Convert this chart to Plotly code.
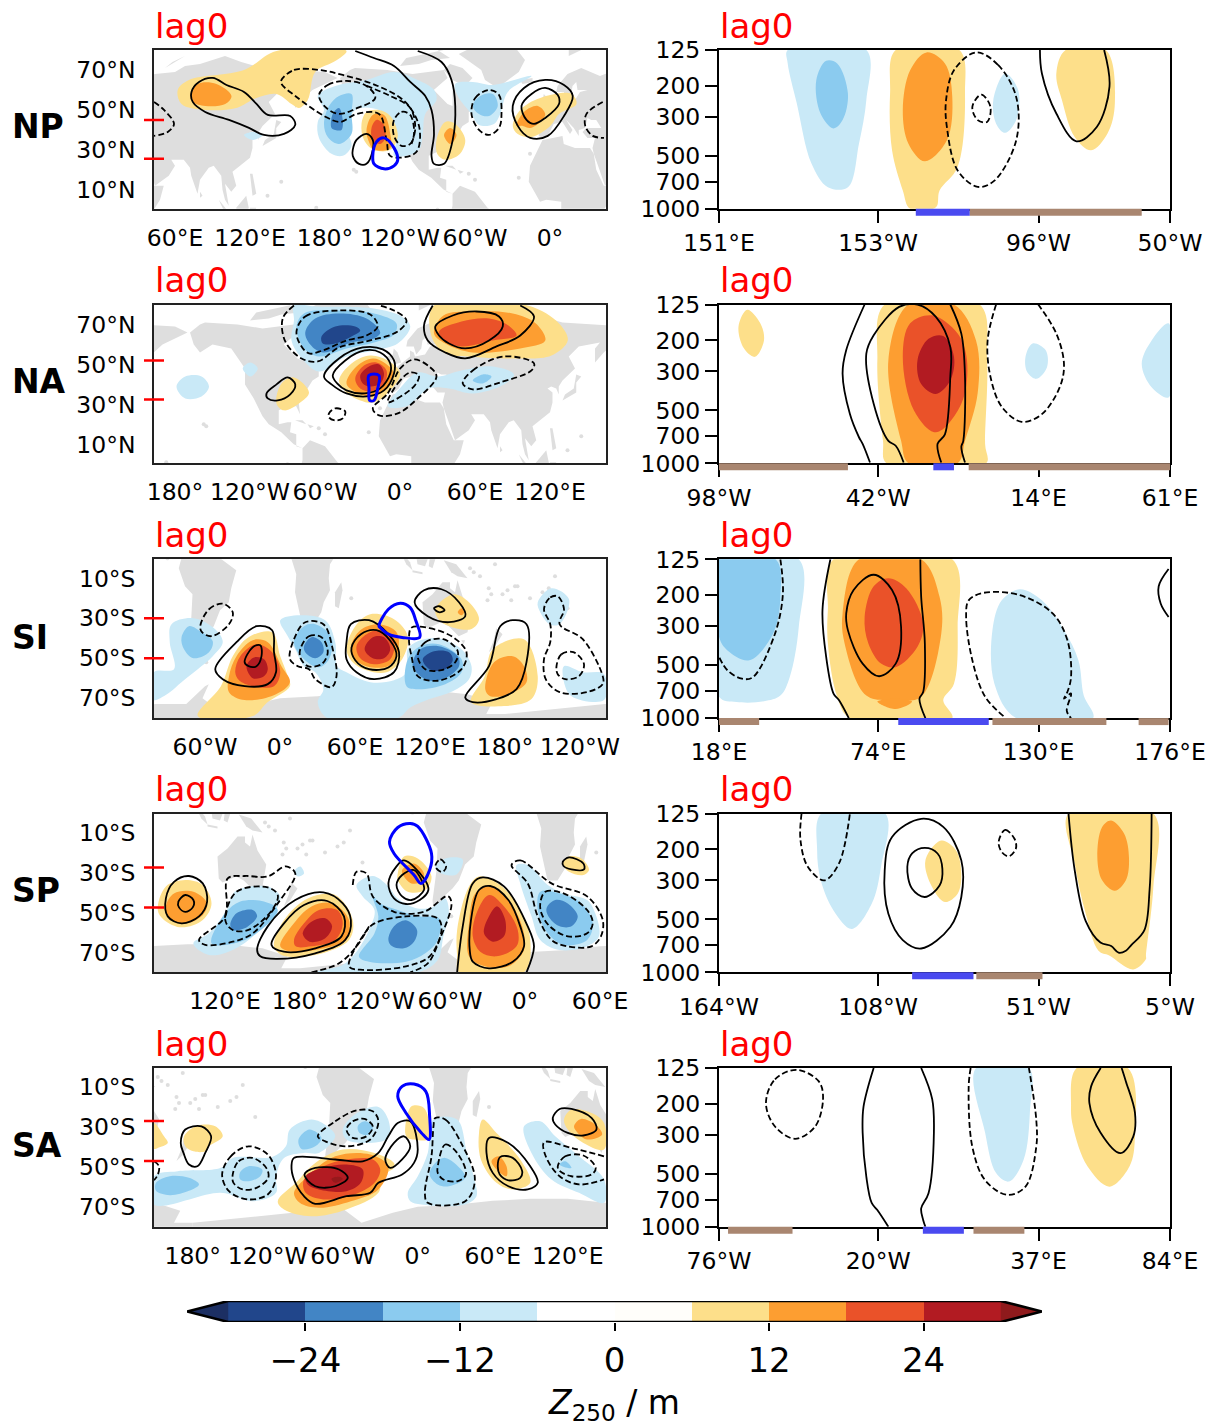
import math
import plotly.graph_objects as go

W, H = 1215, 1426
COL = dict(b4="#21468b", b3="#4285c5", b2="#8bcbef", b1="#c9e9f7",
           r1="#fddf8a", r2="#fd9e31", r3="#ea5229", r4="#b21b22", r5="#96191c")
LAND = "#dedede"

# ---------- land outlines, true lon / lat ----------
WORLD = [
 [(-9,37),(-9,43),(-1,44),(-4,48),(2,51),(8,54),(8,57),(11,56),(12,54),(20,55),(24,59),(30,60),(22,60),(21,64),(24,66),(18,62),(17,58),(13,55),(11,59),(5,59),(6,62),(14,68),(25,71),(40,67),(44,68),(60,69),(68,72),(80,73),(100,77),(113,74),(130,71),(160,70),(180,69),(190,66),(180,63),(170,60),(163,56),(156,51),(156,58),(160,61),(143,59),(135,54),(140,48),(130,42),(127,39),(127,35),(125,38),(121,39),(118,38),(122,36),(122,31),(120,26),(110,21),(106,19),(109,12),(105,9),(100,13),(103,2),(100,5),(98,10),(97,17),(91,22),(87,21),(80,15),(78,8),(73,17),(72,21),(67,25),(57,25),(60,22),(55,17),(44,12),(39,21),(35,28),(34,31),(36,36),(30,36),(26,39),(29,41),(41,41),(37,45),(33,45),(30,46),(28,41),(23,40),(23,37),(19,41),(13,45),(18,40),(16,38),(10,44),(3,43),(-1,38),(-5,36)],
 [(-6,35),(10,37),(11,33),(20,31),(32,31),(35,28),(37,20),(43,12),(51,12),(48,5),(40,-3),(39,-10),(40,-16),(35,-22),(33,-27),(26,-34),(18,-34),(12,-17),(13,-8),(9,0),(9,4),(-3,5),(-8,4),(-17,14),(-16,22),(-10,30)],
 [(-168,66),(-160,70),(-156,71),(-130,70),(-110,68),(-95,69),(-85,70),(-82,66),(-93,60),(-82,53),(-78,52),(-78,60),(-70,61),(-65,59),(-55,52),(-65,49),(-65,44),(-70,42),(-75,37),(-81,31),(-80,25),(-83,29),(-90,29),(-97,27),(-97,20),(-90,21),(-87,21),(-88,16),(-83,15),(-83,9),(-78,8),(-85,10),(-95,16),(-105,20),(-110,24),(-117,33),(-124,40),(-124,48),(-135,58),(-150,60),(-160,56),(-165,60)],
 [(-78,8),(-72,12),(-60,9),(-50,1),(-35,-6),(-39,-15),(-41,-22),(-48,-26),(-53,-34),(-58,-38),(-65,-42),(-68,-52),(-72,-53),(-74,-44),(-71,-30),(-70,-18),(-76,-14),(-81,-5),(-78,2)],
 [(114,-22),(122,-18),(130,-12),(136,-12),(136,-15),(140,-17),(142,-11),(146,-19),(153,-26),(150,-37),(143,-39),(135,-34),(129,-32),(118,-35),(115,-33)],
 [(-73,78),(-60,82),(-30,83),(-20,75),(-25,69),(-42,61),(-52,65),(-55,70)],
 [(-80,73),(-70,71),(-62,66),(-68,62),(-78,65),(-85,70)],
 [(-120,72),(-105,73),(-95,75),(-80,76),(-90,80),(-70,82),(-115,76)],
 [(-180,-78),(-150,-76),(-120,-74),(-100,-73),(-75,-73),(-60,-64),(-57,-63),(-62,-70),(-45,-78),(-20,-73),(0,-70),(30,-69),(60,-67),(90,-66),(120,-66),(150,-68),(170,-72),(165,-78),(180,-78),(180,-90),(-180,-90)],
 [(49,-12),(50,-16),(47,-25),(44,-24),(44,-17)],
 [(173,-35),(178,-38),(175,-41),(172,-44),(167,-47),(171,-41)],
 [(-5,50),(1,51),(-2,56),(-5,58),(-6,54)], [(-10,52),(-6,52),(-6,55),(-10,54)],
 [(-24,65),(-14,66),(-14,64),(-22,63)],
 [(130,32),(136,34),(141,36),(141,41),(145,44),(141,45),(139,38),(132,35)],
 [(95,5),(104,-2),(106,-6),(101,-3)], [(106,-6),(114,-7),(114,-8),(106,-7)],
 [(109,1),(117,7),(119,1),(116,-4),(110,-3)], [(120,1),(125,1),(122,-5),(119,-4)],
 [(131,-1),(141,-3),(150,-10),(142,-9),(137,-7)], [(120,18),(122,18),(125,8),(122,7)],
 [(80,9),(82,7),(80,6)], [(-84,22),(-75,20),(-78,22)], [(-74,20),(-69,19),(-72,18)],
 [(145,-41),(148,-41),(147,-43)], [(15,77),(25,80),(15,80)], [(52,71),(68,77),(58,74)],
]
ISLANDS = [(167,-15),(178,-18),(-172,-14),(-150,-17),(166,-21),(160,-9),(152,-5),(-175,-21),(-140,-9),(173,1),(145,14),(-157,20),(-155,19),(57,-20),(-16,28),(-25,16),(-60,15),(-65,18),(70,-49),(-59,-52),(-37,-54),(-170,-14),(155,-7),(169,-18),(-145,-15),(-178,-16),(172,-3),(-160,-20),(134,7),(-90,0),(-130,-25)]

# ---------- map panels: x = degrees east of the left map edge, y = degrees lat ----------
NP_FILLS = [
 ("r1",[(19,60),(28,65),(72,70),(98,79.5),(154,79.5),(145,74.5),(129,69),(123,55),(116,51),(110,53),(98,58),(82,56),(66,51),(41,50),(22,53)]),
 ("r2",[(29,57),(35,63),(50,63),(62,57),(57,53),(41,52),(31,54)]),
 ("b1",[(72,37.5),(79,39),(87,37.5),(79,35)]),
 ("b1",[(131,57),(145,62),(170,65),(192,69),(211,65),(224,60),(226,55),(217,48),(215,38),(212,30),(202,27),(192,27),(194,35),(192,43),(180,50),(161,50),(155,40),(158,32),(151,27),(142,28),(132,36),(131,44),(136,50)]),
 ("b2",[(136,43),(140,52),(148,57),(158,58),(158,48),(158,38),(148,33),(139,36.5)]),
 ("b3",[(142,41),(143,48),(148,51),(151,45),(150,40),(145,40)]),
 ("r1",[(166,43),(170,49),(180,50),(189,47),(195,37),(189,30),(176,30),(168,35)]),
 ("r2",[(170,40),(175,47.5),(184,47.5),(189,38),(189,31),(176,30),(172,34)]),
 ("r3",[(174,41),(178,45),(184,42.5),(185,36),(181,33),(175,35)]),
 ("r1",[(226,35),(233,44),(241,43),(249,35),(244,27.5),(233,25),(227,27.5)]),
 ("r2",[(232,37.5),(237,41),(242,37.5),(237,33)]),
 ("b1",[(241,63),(255,64),(271,62.5),(302,67),(283,59),(277,48),(272,43),(260,42.5),(254,48),(243,57)]),
 ("b2",[(255,52),(261,57),(271,58),(275,52),(268,47),(260,48)]),
 ("r1",[(287,42),(293,50),(309,56),(334,58),(338,53),(324,48),(317,42),(302,36.5),(291,38)]),
 ("r2",[(290,42),(296,49),(307,52),(313,48),(309,44),(301,41),(295,42)]),
]
NP_S = [
 [(30,59),(36,64),(47,66),(58,62.5),(72,59),(82,53),(91,47.5),(109,47),(113,42.5),(104,38),(88,37.5),(76,41),(60,45),(41,49),(31,54)],
 [(159,30),(162,35),(170,38),(175,35),(175,30),(170,23),(164,23),(159,27)],
 [(287,52),(296,61),(313,65),(328,62.5),(335,57),(328,47),(315,37),(301,36),(291,42)],
 [(294,52),(302,58),(313,61),(323,57.5),(324,53),(313,46),(304,43),(298,45)],
]
NP_SO = [[(161,79.5),(176,76),(192,72),(205,64),(217,57),(222,50),(224,38),(222,27),(224,23),(232,23),(239,35),(241,52),(238,65),(230,74),(211,79.5)]]
NP_D = [
 [(102,65),(112,70),(132,70),(151,67.5),(179,62),(201,54),(212,42),(211,30),(205,27),(189,27),(186,35),(180,48),(162,48),(149,44),(136,47),(113,57),(102,63)],
 [(132,57.5),(139,62.5),(154,64.5),(170,62),(177,56),(161,50.5),(148,48),(137,51.5)],
 [(192,45),(198,49),(205,47.5),(208,38),(205,33),(198,32),(192,37)],
 [(254,48),(257,56),(268,60),(276,57.5),(278,48),(276,41),(268,37.5),(260,40)],
]
NP_DO = [
 [(170,62),(189,57),(205,51),(209,41),(206,33)],
 [(359,54),(346,48),(345,42),(351,37),(360,36)],
 [(0,54),(8,50),(16,43),(11,39),(0,37)],
]
NP_BLUE = [(175,27),(178,34),(184,36),(192,31),(195,25),(192,22),(184,20.5),(176,23)]

NA_FILLS = [
 ("b1",[(18,39),(25,44),(38,44),(44,39),(38,34),(25,33)]),
 ("b1",[(71,48),(77,51),(83,48),(77,44)]),
 ("r1",[(98,30.5),(102,40.5),(112,43.5),(124,36),(116,30.5),(104,27)]),
 ("b1",[(112,79.5),(129,79),(176,78),(198,74),(205,69),(195,60.5),(176,57),(154,54),(132,46.5),(117,54),(110,62),(112,72)]),
 ("b2",[(114,69),(120,75.5),(148,77),(176,75.5),(194,70.5),(192,65),(176,61),(154,58),(132,54),(120,58)]),
 ("b3",[(121,66),(129,73),(148,75.5),(170,73),(181,66),(176,63),(158,61),(135,56),(125,60)]),
 ("b4",[(134,64),(145,69),(161,69),(165,67),(158,64),(145,60.5),(135,60.5)]),
 ("b1",[(187,29),(198,39),(211,46),(227,44),(246,47),(271,49),(288,45),(280,40),(255,35.5),(236,38),(220,38),(202,29)]),
 ("b2",[(255,42),(263,45),(270,44),(263,40.5)]),
 ("r1",[(148,42),(158,50.5),(173,54.5),(187,52),(197,45.5),(189,37),(176,31),(165,32),(154,36)]),
 ("r2",[(154,40.5),(162,49),(175,53),(184,51),(192,45.5),(186,38),(175,34),(162,36)]),
 ("r3",[(161,43),(168,49.5),(178,51),(186,47),(184,40),(175,36.5),(165,38)]),
 ("r4",[(165,44.5),(172,49),(180,50),(184,45.5),(181,40.5),(173,39),(167,40.5)]),
 ("r1",[(222,64),(224,79.5),(299,79.5),(324,70.5),(331,62),(318,54.5),(287,53),(252,54),(233,55.5)]),
 ("r2",[(224,65.5),(231.5,74.5),(255,76.5),(287,75.5),(305.5,70.5),(313,62),(293,58),(255,56),(233,60.5)]),
 ("r3",[(228,66.5),(246,71.5),(268,73),(283.5,69.5),(290,64.5),(271,62),(246,59),(231.5,62)]),
]
NA_S = [
 [(90,35.5),(98,40),(107,43.5),(113,40),(109,35),(99,32),(91,33)],
 [(136,44),(148,53),(167,58.5),(183,57.5),(192,52),(192,45.5),(184,37),(170,34),(154,35.5),(142,40)],
 [(143,44.5),(153,52),(168.5,57),(181,56),(189,50.5),(189,45.5),(181,38),(168.5,35.5),(154,37),(146.5,40.5)],
 [(225,69),(239,74.5),(258,76.5),(276,74),(279,69),(268,62),(249,58),(236,60.5),(228,64.5)],
]
NA_SO = [[(223,79.5),(216,69.5),(219,62),(233,56),(249,53),(274,59),(293,64.5),(304,74),(293,79.5)]]
NA_D = [
 [(114,66.5),(121,74),(148,77),(173,75),(179,69),(170,64.5),(154,62),(135,57),(124,55.5),(117,60)],
 [(140,25.5),(145,28),(153,26.5),(151,23),(145,22),(140,23.5)],
 [(175,28),(187,35.5),(197,48),(208,52.5),(220,49),(226,44),(211,33),(195,25.5),(180,24.5)],
 [(187,31),(195,40.5),(205,46),(212,44.5),(208,39)],
 [(247,40.5),(255,47),(280,54),(304,50.5),(302,47),(277,41),(255,37.5)],
]
NA_DO = [[(112,79.5),(103,73),(105,61.5),(118,53),(131,51.5),(148,58.5),(173,62),(195,66.5),(202,72),(192,77),(180,79.5)]]
NA_BLUE = [(172,44.5),(180,44.5),(179,38),(176,32),(172.5,32),(172,38)]

SI_FILLS = [
 ("b1",[(0,57),(16,55.5),(12.6,42),(14,33),(31.5,30),(49,35.5),(55,42),(47,49),(35,55.5),(22,62),(12.6,67),(1.6,71),(0,71)]),
 ("b2",[(22,39.6),(28,34),(38,37),(47,41.5),(44,47),(31.5,50),(24,45.5)]),
 ("b1",[(101,31),(116.5,28.5),(137,31),(145,42),(146.5,54),(154,57),(173,62),(192,61),(202,57),(203,45.5),(211,41.5),(227,40),(246,45.5),(254,54),(252,60.5),(239,66.5),(220.5,70.5),(205,74.7),(195,80),(138.6,80),(131,72),(135.5,65.5),(129,57),(120,54),(113,45.5),(107,39)]),
 ("b2",[(112,42),(120,34),(129,33),(142,39.5),(140,50.5),(132,54.5),(120,50.5)]),
 ("b3",[(120,44),(126,39.5),(134,42),(135.5,47),(129,50),(121,47)]),
 ("b2",[(202,64),(203,50.5),(213,44),(228,43),(246,50.5),(246,57),(233,63),(211,65.5)]),
 ("b3",[(207,54),(213,45.5),(228,44),(243,49),(244,54),(233,60),(219,61)]),
 ("b4",[(215,50.5),(224,46.5),(236,47),(239,51),(231.5,56),(220.5,55.5)]),
 ("r1",[(35,79),(53.5,64),(63,49),(75.6,39.5),(94.5,37),(101,49),(107,59),(108.7,64),(91,72),(79,79)]),
 ("r2",[(60,67),(60,59),(66,49),(79,41),(91,42),(102,54),(108.7,62),(97.6,68),(72.5,71)]),
 ("r3",[(65,57),(69,49),(82,43),(94.5,47),(101,57),(96,64),(79,64),(68,61)]),
 ("r4",[(74,54),(80,49.6),(88,50.5),(91,55.5),(88,59),(79,60)]),
 ("r1",[(154,45.5),(161,34),(173,28),(192,30.5),(203,39),(198.5,50.5),(186,57),(170,56),(159,52)]),
 ("r2",[(157.5,44.7),(165,36),(179.5,33),(194,37),(195,47),(187,54),(170,54),(161,50.5)]),
 ("r3",[(162,44),(170,38),(183,36),(192,42),(189,50.5),(176,53),(165,50)]),
 ("r4",[(168.5,45.5),(175,39.5),(184,39.5),(189,45.5),(184,50),(175,50)]),
 ("r1",[(225,25.5),(239.5,18),(252,22),(260,30.5),(253.6,35.5),(230,32)]),
 ("r2",[(243,27),(246,25),(248,27),(246,28.5)]),
 ("r1",[(253.6,72),(264.6,59),(271,45.5),(296,40.5),(307,59),(302,70.5),(280,74)]),
 ("r2",[(265,65.5),(272,52),(287,49),(296,54),(298,62),(283.5,68),(269,69)]),
 ("b1",[(307,22),(318,15),(332,20.5),(324.5,33),(316.6,33),(309,27)]),
 ("b1",[(328,54),(343,57),(360,58),(360,71),(334,69),(328,62)]),
]
SI_S = [
 [(49,55.5),(66,42),(82,34),(94.5,36),(96,47),(97.6,57),(91,63),(72.5,64),(55,60.5)],
 [(72.5,52),(79,44.5),(85,43.5),(86,49),(82,54),(75.6,54)],
 [(154,42),(157.5,33),(172,31),(187.5,38),(196,47),(192,57),(176,60.5),(162,57),(154,50.5)],
 [(158,44.7),(165.5,38),(178,36),(189,41.3),(194,49),(187.5,54.7),(172,55.5),(161,51)],
 [(208.5,22),(216,16),(230,15.5),(244,22),(249,29),(236,32),(219,29)],
 [(224,25),(228,24),(232.5,26),(228,27)],
 [(249,69.7),(268,54),(277,34),(287,31),(298,33),(298,52),(290,65.5),(274,70.5),(255,72)],
]
SI_SO = []
SI_D = [
 [(37,34),(44,25.5),(55,22.7),(63,27),(60,33),(46,39),(38.4,37)],
 [(108.7,50.5),(112,40.5),(121,32),(135.5,33),(143,45.5),(146,59),(142,64.5),(129,60.5),(124,55.5),(115,54)],
 [(117,45.5),(124,39),(134,39.5),(139,47),(134,53),(123,54),(117,49.6)],
 [(206,34.7),(220.5,35),(239.5,39.6),(250,47),(246,55.5),(227,61.3),(211,59),(206,49),(204,40.5)],
 [(211,49),(217,42),(231.5,40.5),(243,46.5),(241,52),(230,56),(217,55.5)],
 [(312,25.5),(317,19.6),(323,19),(328,25.5),(324.5,33),(343,40.5),(359,59),(359,63),(346.5,67),(324.5,67),(313.4,60.5),(312,50.5),(317,42),(317,33)],
 [(322,54),(326,48),(335.5,47),(344,53),(340,59),(329,60.5),(323,58)],
]
SI_DO = []
SI_BLUE = [(180,34),(187.5,25.5),(197,22.5),(205,24.7),(209.5,31.3),(212.6,39.6),(198.5,39.6),(187.5,38),(181,34.7)]

SP_FILLS = [
 ("r1",[(3,48.8),(9.5,37),(25,33.8),(39,36.3),(46,45.5),(39,53.8),(22,57.5),(8,53.8)]),
 ("r2",[(9.5,47),(16,40.5),(31.5,39.7),(42.5,45.5),(38,52),(25,55.5),(12.6,53)]),
 ("b1",[(31.5,65.5),(44,60.5),(58,48.8),(64.6,39.7),(91,37),(101,42),(99,47),(82,60.5),(63,68.8),(44,71.3)]),
 ("b1",[(112,29.7),(117,27),(120,30.5),(115,32)]),
 ("b2",[(46,65.5),(57,50.5),(69,44.6),(88,44.6),(99,48.8),(82,60.5),(64.6,65.5)]),
 ("b3",[(61,56.3),(66,50.5),(79,48.8),(82.5,52),(72.5,58),(63,58.8)]),
 ("r1",[(96,67),(104,53.8),(123,43),(145,41.3),(159,53.8),(156,63.8),(129,71.3),(102,71.3)]),
 ("r2",[(101,67),(110,57),(126,47),(143,45.5),(156,53.8),(153,63.8),(129,68.8),(110,69.7)]),
 ("r3",[(112,63.8),(120,55.5),(132,48.8),(146.5,48.8),(151,55.5),(145,63.8),(126,67),(113.4,67)]),
 ("r4",[(119,60.5),(126,54.7),(137,53),(142.4,57),(137,63),(124.4,64.7)]),
 ("b1",[(162,36.3),(175,31.8),(187.5,37),(195,43),(211,48),(224,47),(233,43),(236,50.5),(231.5,62),(227,73.8),(211,80),(129,80),(151,76.3),(161,70.5),(172,58.8),(176.4,48.8),(167,42)]),
 ("b1",[(225,27),(233,23),(247,23.5),(242,31),(228,30)]),
 ("b2",[(175,42),(181,45.5),(195,48.8),(211,52),(228,53),(227,63.8),(217,70.5),(201.6,74.7),(172,74.7),(164,72.2),(176.4,60.5),(179.5,52)]),
 ("b3",[(187.5,63.8),(192,57),(201.6,54),(210.4,58.8),(208,64.7),(200,68),(190.6,67)]),
 ("r1",[(195,30.5),(200,22),(211,23),(222,32),(217,38.8),(203,39.7),(195,33.8)]),
 ("r2",[(198.5,28.8),(208,25.5),(216,30.5),(214,34.7),(206,35.5),(200,32)]),
 ("r1",[(242.5,72),(242.5,58.8),(252,37),(260,32),(277,36.3),(293,48.8),(301,63.8),(296,80),(244,80)]),
 ("r2",[(252,72),(252,55.5),(257,40.5),(269,37),(283.5,43.8),(294.5,57),(296,68.8),(283.5,77),(264.6,77)]),
 ("r3",[(255,62),(258,50.5),(268,41.3),(280,47),(291,58.8),(290,67),(274,72),(261,69.7)]),
 ("r4",[(264,60.5),(268,52),(274.7,47),(281,53.8),(280,62),(271,64.7)]),
 ("b1",[(290,26.3),(299,26.3),(315,36.3),(327.6,40.5),(346.5,43.8),(353,50.5),(356,62),(346.5,67),(324.5,68.8),(309,63.8),(302,52),(293,35.5)]),
 ("b2",[(307,48.8),(309,39.7),(324.5,40.5),(342,45.5),(351,55.5),(346.5,63.8),(327.6,66.3),(315,60.5)]),
 ("b3",[(314,48),(321,43.8),(331,45.5),(339,52),(334,57),(324.5,57),(316.6,53)]),
 ("r1",[(327,25.5),(332,22),(342,23),(348,28.8),(343.5,31.3),(332,29.7)]),
]
SP_S = [
 [(9.5,43),(16,34.7),(28,31.8),(39,35.5),(42.5,44.6),(36,52),(22,55.5),(11,52)],
 [(19.5,44.6),(25,41.3),(31.5,43.8),(31,47.5),(25,49.7),(20,47.5)],
 [(82.5,68.8),(91,57),(113,43.8),(135.5,40),(151,45.5),(157.5,53.8),(153,63.8),(129,70.5),(97.6,73.3),(85,72)],
 [(94,66.3),(104,55.5),(120,46.3),(138.6,44.3),(152,52),(150,62),(129,68),(104,69.7)],
 [(187.5,35.5),(194,27),(200,24),(216,33),(219.5,38.8),(212.6,43.8),(201.6,45.8),(192,43)],
 [(194,36.3),(198.5,31.3),(208,28.8),(214,33.8),(216,38.8),(206,43.8),(198.5,42)],
 [(252.6,68.8),(253.6,53.8),(260,38.8),(269,36.8),(283.5,43.8),(293,57),(296,67),(287,74.7),(268,78),(255,74.7)],
 [(327,24.7),(332,22.5),(343.5,25.5),(344,28.5),(334,28.5),(327.6,26.8)],
]
SP_SO = [[(242.5,80),(247,57),(255,35.5),(263,32.5),(280,37),(299,57),(304,67),(298,80)]]
SP_D = [
 [(36,63.8),(57,52),(59,33),(72.5,31.8),(91,32),(105.5,27),(113,30.5),(99,45.5),(79,60.5),(63,64.7),(41,66.3)],
 [(57,53.8),(66,39.7),(91,37.5),(99,41.3),(94.5,48.8),(75.6,58.8),(63,58.8)],
 [(156,77),(168.5,60.5),(176.4,55.5),(201.6,52),(227,53),(230,58.8),(220.5,72),(201.6,77),(167,78.8)],
 [(225,27),(229,23.5),(233.7,27),(230.6,29.8)],
 [(286,26.3),(293,24),(318,35.5),(346.5,42),(359,53.8),(357.5,62),(350,67),(331,67),(318,63.8),(307,52),(299,35.5)],
 [(309,45.5),(313,39.7),(327.6,40.5),(346.5,48.8),(351,55.5),(346.5,60.5),(331,62),(316.6,57),(310,50.5)],
]
SP_DO = [
 [(159,36.3),(162,29.7),(170,30.5),(175,42),(192,49.7),(216,49.7),(235,41.8),(238,45.5),(228.4,63.8),(219,75.5),(205,80)],
 [(126,80),(148,75.5),(162,67),(172,57)],
]
SP_BLUE = [(205,5.5),(211,7),(222,20.5),(220.5,28.8),(213.6,35.5),(208,31.3),(192,20.5),(188.4,14.7),(195,7.5)]

SA_FILLS = [
 ("r1",[(0,28),(8,34.7),(11,38),(3,40.5),(0,41)]),
 ("r1",[(24,34.7),(35,29.3),(49,29.7),(55,34.7),(44,39.7),(41,42.2),(31.5,42.2),(25,39.7)]),
 ("b1",[(0,54.7),(19,52.2),(53.5,50.5),(63,45.5),(94.5,45),(105.5,39.7),(108.7,31.3),(126,26.3),(138.6,29.7),(145,34.7),(132,43),(120,43),(104,45.5),(97.6,54.7),(97.6,63),(79,67.2),(53.5,63),(0,68.8)]),
 ("b2",[(1.6,58),(12.6,54.7),(28,55.5),(36,58.8),(28,62),(12.6,64.2),(1.6,62)]),
 ("b2",[(68.7,53),(75.6,49.7),(86.6,51.3),(85,54.7),(75.6,57.2),(69,56.3)]),
 ("b2",[(115.6,36.3),(124.4,31.3),(134,35.5),(129,39.7),(118,41)]),
 ("b1",[(151,31.3),(160.6,23.8),(179.5,20),(187.4,26.3),(187.4,35.5),(170,38),(154,36.3)]),
 ("b2",[(163,29.7),(168.5,27.2),(175,29.7),(172,33.8),(164.4,33)]),
 ("r1",[(99,67.2),(113.4,58),(129,48),(151,41.3),(176.4,43),(192,48),(192,50.5),(182.7,54.7),(179.5,63),(154,71.3),(126,74.7),(104,71.3)]),
 ("r2",[(112,63),(123,54.7),(145,44.7),(173,43.8),(187.4,49.7),(179.5,61.3),(157.5,67.2),(132,70.5),(116.6,68)]),
 ("r3",[(120,56.3),(135.5,49.7),(154,46.3),(175,46.3),(181,51.3),(176.4,58),(160.6,63.8),(135.5,66.3),(121.3,63)]),
 ("r4",[(121.3,54.7),(135.5,50.5),(154,48.8),(167,51.3),(165.4,58),(154,62.2),(132,61.3),(123,58.8)]),
 ("r5",[(142,56),(148,55),(151,56),(145,58)]),
 ("r1",[(201,33),(206,19.7),(216,20.5),(220.5,31.3),(219,36.3),(208,36.3),(203,35.5)]),
 ("b1",[(203,63),(211,54.7),(219,43),(223.6,26.3),(242.5,26.3),(250.4,43),(257,58),(258,64.7),(249,68.8),(214,68.8),(205,67.2)]),
 ("b2",[(220.5,53.8),(225,48),(233,45.5),(245.7,51.3),(249,55.5),(236,59.7),(227,58.8)]),
 ("r1",[(260,33),(263,26.3),(274,33),(293,46.3),(301,58),(287,61.3),(274,58),(261.5,46.3)]),
 ("r2",[(270,47.2),(275.6,44.7),(282,49.7),(282,54.7),(275.6,52.2)]),
 ("b1",[(296,29.7),(309,27.2),(321,34.7),(340,44.7),(360,56.3),(360,68),(340,63),(318,56.3),(302,43)]),
 ("b2",[(324.5,48.8),(329,47.2),(334,50.5),(328,50)]),
 ("r1",[(328,26.3),(334,21.3),(350,23),(360,28),(360,41.3),(343.5,38),(331,31.3)]),
 ("r2",[(336,29.7),(341.5,26),(353,28.8),(358.5,33.8),(346.5,36.3),(339,33)]),
]
SA_S = [
 [(21.4,38),(25,31.3),(38,29.7),(45.7,34.7),(41,43),(34.7,49.7),(28,48.8),(23.6,43)],
 [(110,49.7),(112,45.5),(145,46.3),(167,47.2),(179.5,43),(187.4,34.7),(195,28),(205,27.2),(211,41.3),(208,48),(198.5,53.8),(179.5,58),(173,63),(154,64.7),(129,68.5),(120,64.7),(112,56.3)],
 [(185,46.3),(192,38),(200,34.7),(205,39.7),(198.5,46.3),(189,50.5)],
 [(120.4,53.8),(129,50.5),(148,51.3),(155,55.5),(145,59.7),(129,59.7)],
 [(266,43),(268,35.5),(283.5,38),(301,49.7),(307,58),(299,61.3),(283.5,59.7),(271,53)],
 [(275,49.7),(277,45),(287,45.5),(294.5,52),(293,55.5),(283.5,56.7),(276.6,53.8)],
 [(319,25.5),(324.5,21),(334,21),(350,25.5),(354,31.3),(343.5,34.3),(331,33),(321,28.8)],
]
SA_SO = []
SA_D = [
 [(54.5,53.8),(61.4,44.7),(75.6,39.7),(91,43.8),(97.6,54.7),(91,63.8),(75.6,66.3),(60,62.2)],
 [(63,53.8),(67.7,47.2),(78.8,45.5),(89.8,50.5),(91.4,55.5),(82,60.5),(71,61.3),(63.6,58)],
 [(131,34.7),(145,27.2),(162,21.7),(175,22.2),(179.5,27.2),(173,36.3),(154,39.7),(137,37.2)],
 [(154,31.3),(159,27.2),(168.5,26),(175,29.7),(170,34.7),(159,35.5)],
 [(225,25.5),(233,26.3),(245.7,38),(256.7,56.3),(249,67.2),(219,68),(216.7,63),(222,44.7),(223.6,29.7)],
 [(227,49.7),(233,38.8),(242.5,43),(249.5,53.8),(242.5,57.2),(231.5,56.3),(227,53)],
 [(323,49.7),(329,44.7),(343.5,44.3),(353.4,50.5),(350,53.8),(334,54.7),(324.5,52)],
]
SA_DO = [
 [(0,47.2),(4,49.7),(3,54),(0,56.7)],
 [(360,44.7),(334,40.5),(312,37.7),(313.4,44.7),(324.5,54.7),(340,58.8),(360,56.3)],
]
SA_BLUE = [(195,14.7),(198.5,9.7),(208,8.5),(217.4,12.2),(220.5,24.7),(220,36.3),(214,33),(201.6,23)]

MAPS = [
 dict(name="NP", top=50,    mid=127,  left=43.2,  nh=True,  fills=NP_FILLS, s=NP_S, so=NP_SO, d=NP_D, do=NP_DO, blue=NP_BLUE, red=[45,25.5],
      xt=[60,120,180,240,300,360], xl=["60°E","120°E","180°","120°W","60°W","0°"]),
 dict(name="NA", top=304.5, mid=382,  left=-196.8,nh=True,  fills=NA_FILLS, s=NA_S, so=NA_SO, d=NA_D, do=NA_DO, blue=NA_BLUE, red=[52,32.5],
      xt=[-180,-120,-60,0,60,120], xl=["180°","120°W","60°W","0°","60°E","120°E"]),
 dict(name="SI", top=559.3, mid=637,  left=-100.8,nh=False, fills=SI_FILLS, s=SI_S, so=SI_SO, d=SI_D, do=SI_DO, blue=SI_BLUE, red=[30,50],
      xt=[-60,0,60,120,180,240], xl=["60°W","0°","60°E","120°E","180°","120°W"]),
 dict(name="SP", top=813.5, mid=890,  left=63.2,  nh=False, fills=SP_FILLS, s=SP_S, so=SP_SO, d=SP_D, do=SP_DO, blue=SP_BLUE, red=[27.5,47.5],
      xt=[120,180,240,300,360,420], xl=["120°E","180°","120°W","60°W","0°","60°E"]),
 dict(name="SA", top=1068,  mid=1145, left=-211,  nh=False, fills=SA_FILLS, s=SA_S, so=SA_SO, d=SA_D, do=SA_DO, blue=SA_BLUE, red=[27,47],
      xt=[-180,-120,-60,0,60,120], xl=["180°","120°W","60°W","0°","60°E","120°E"]),
]

# ---------- section panels: x = degrees from the left section edge, y = hPa ----------
SEC1_FILLS = [
 ("b1",[(24.3,125),(52.1,125),(52.1,241),(49.5,426),(45.6,754),(38.5,754),(32.7,553),(27.5,251),(24.3,149)]),
 ("b2",[(34.4,186),(37.9,144),(41.8,149),(45.6,221),(43.7,313),(40.5,349),(35.9,287)]),
 ("r1",[(62.5,125),(85,125),(87,221),(84.4,578),(78,786),(76.7,980),(67.6,1000),(65,786),(61.2,465),(60.5,221)]),
 ("r2",[(65,275),(67.6,163),(73.4,129),(79.9,149),(82.5,231),(80.6,408),(72.8,537),(67,426)]),
 ("b1",[(97,241),(101.2,170),(105.8,211),(105.1,313),(101.2,370),(98,328)]),
 ("r1",[(119.3,170),(122.6,125),(136.8,125),(140,251),(137.4,373),(131.6,465),(125.8,390),(121.3,241)]),
]
SEC1_S, SEC1_SO = [], [[(113.5,125),(114.2,170),(119.3,287),(126.4,413),(133.6,343),(138.1,202),(136.2,125)]]
SEC1_D = [[(90.9,129),(98.7,152),(105.1,231),(105.1,408),(97.4,692),(91.5,750),(84.4,605),(80.6,343),(80.3,241),(83.1,163)],
          [(89.6,263),(92.8,224),(96,263),(94.8,321),(91.5,313)]]
SEC1_DO = []
SEC1_STRIP = [("blue",69.6,88.7),("brown",88.7,149.5)]

SEC2_FILLS = [
 ("r1",[(6.9,167),(10,134),(14.6,160),(15.9,200),(12.7,248),(8.8,222)]),
 ("r1",[(58.6,125),(92.2,125),(94.8,259),(94.1,775),(94.5,1000),(59.2,1000),(58,745),(56,259)]),
 ("r2",[(67,125),(83.1,125),(90.9,200),(91.5,397),(87,745),(84.4,1000),(67,1000),(64.4,745),(59.9,259)]),
 ("r3",[(65,248),(67.6,160),(75.4,144),(84.4,183),(87.7,259),(85.7,458),(76.7,666),(69,502)]),
 ("r4",[(70.2,259),(74.1,196),(79.3,189),(83.1,248),(81.8,338),(76.7,403),(71.5,354)]),
 ("b1",[(108.4,248),(110.9,208),(115.5,227),(116,284),(112.2,331),(109,303)]),
 ("b1",[(159,160),(153,200),(149.5,272),(153,370),(159,422)]),
]
SEC2_S = []
SEC2_SO = [
 [(51.5,125),(45,227),(43.7,309),(46.3,525),(49.5,711),(50.8,775),(53.4,990)],
 [(65.3,990),(62.5,795),(59.9,745),(54.7,458),(52.1,238),(54.7,187),(63.7,129),(70.2,125),(76.7,147),(81.8,218),(81.8,322),(79.9,684),(77.3,775),(78.6,990)],
 [(81.8,125),(85.7,183),(87,322),(86.4,745),(85.7,805),(87,990)],
]
SEC2_D = []
SEC2_DO = [[(98,125),(95,200),(96,322),(100,477),(107,581),(114.2,525),(120.6,366),(122,272),(119.3,183),(112.9,125)]]
SEC2_STRIP = [("brown",0,45.6),("blue",75.8,83.1),("brown",88.3,159.7)]

SEC3_FILLS = [
 ("b1",[(0,125),(28.2,125),(28.2,304),(25,585),(21.7,745),(15.9,803),(6.2,810),(0,755)]),
 ("b2",[(0,125),(20,125),(21.7,204),(19.1,331),(10.7,469),(3,412),(0,345)]),
 ("r1",[(40.5,125),(82.5,125),(84.4,304),(83.1,637),(79.3,790),(82.5,1000),(46.3,1000),(41.8,755),(38.5,375),(38.5,243)]),
 ("r2",[(49.5,125),(71.5,125),(78,204),(78.6,331),(71.5,755),(62.5,790),(52.1,745),(44.4,375),(43.7,254)]),
 ("r2",[(56,805),(62.5,775),(68.3,805),(62.5,889)]),
 ("r3",[(51.5,265),(54.7,178),(59.9,160),(66.3,183),(72.2,289),(70.2,393),(62.5,513),(57.3,490),(52.8,375)]),
 ("b1",[(96.7,317),(100,214),(106.4,185),(114.2,214),(122,317),(127.1,469),(129,745),(132.3,1000),(105.1,1000),(97.4,637)]),
]
SEC3_S = [[(45,254),(47.6,187),(54.7,153),(61.2,187),(64.4,304),(62.5,490),(56.6,578),(50.8,490),(45.6,317)]]
SEC3_SO = [
 [(39.4,125),(36.6,243),(37.9,449),(40.5,725),(42.4,790),(45.9,1000)],
 [(71.2,125),(71.5,204),(72.8,375),(72.2,711),(70.9,775),(73,1000)],
 [(159,142),(155.5,178),(156.2,223),(159,266)],
]
SEC3_D = []
SEC3_DO = [
 [(21.7,125),(22.6,196),(19.8,331),(12,585),(8.1,597),(3,535),(0,449)],
 [(100.6,975),(94.1,755),(89.6,469),(87.4,265),(88.3,214),(93.5,194),(106.4,200),(118,254),(123.2,360),(124.5,585),(123.2,711),(122,775),(124.5,725),(123,909),(124.5,1000)],
]
SEC3_STRIP = [("brown",-1.8,14.2),("blue",63.4,95.4),("brown",96.7,137),("brown",148.4,159)]

SEC4_FILLS = [
 ("b1",[(36.2,125),(58.8,125),(57.3,251),(54,408),(47,567),(40.5,445),(36,300),(34.7,202)]),
 ("r1",[(73,231),(78.6,178),(83.8,202),(85.7,275),(84.4,357),(79.9,398),(75.4,328)]),
 ("r1",[(123.6,125),(153.6,125),(153.6,328),(151,803),(151,841),(146.5,965),(138,803),(134.2,754),(129.7,465),(125.8,241)]),
 ("r2",[(133.8,221),(135.5,149),(138.7,137),(143.3,163),(145,224),(143.9,300),(140,344),(135.5,300)]),
]
SEC4_S = [
 [(58.6,263),(61.2,170),(71.5,134),(79.3,149),(85.7,231),(85.7,373),(81.8,553),(71.5,732),(65,656),(59.9,465)],
 [(66.6,251),(68.3,211),(72.8,196),(77.3,211),(79,258),(78,321),(72.8,373),(68.3,335)],
]
SEC4_SO = [[(123.6,125),(125.8,263),(129.7,511),(134.9,677),(138.7,709),(141.3,773),(143.9,754),(145.8,700),(150.4,578),(152.3,335),(153,125)]]
SEC4_D = [[(98.9,181),(101.2,155),(104.5,174),(105,198),(102.5,219),(100,207)]]
SEC4_DO = [[(29.2,125),(28.8,176),(31.4,251),(37.2,300),(42.4,241),(46.3,125)]]
SEC4_STRIP = [("blue",68.3,90),("brown",91,114.4)]

SEC5_FILLS = [
 ("b1",[(90.9,125),(109.6,125),(110,216),(107.7,417),(102.5,553),(98,495),(94.1,291)]),
 ("r1",[(126.5,125),(144.6,125),(147.1,307),(145.2,453),(138.1,591),(130.3,453),(125.2,269),(124.5,208)]),
]
SEC5_S = []
SEC5_SO = [
 [(54.7,125),(51.1,208),(50.8,291),(52.1,519),(54,732),(56,803),(59.9,1000)],
 [(71.5,125),(75.4,188),(76,291),(74.1,645),(71.5,786),(72.2,914),(73,1000)],
 [(135,125),(131.6,159),(131,198),(134.9,291),(142,381),(146.5,307),(147.1,224),(143.9,149),(142.4,125)],
]
SEC5_D = [[(16.6,198),(19.8,145),(27.5,128),(35.3,149),(36.8,186),(34,269),(26.9,316),(19.8,269)]]
SEC5_DO = [[(89,125),(88.3,159),(89.6,351),(94.1,543),(101.9,658),(108.4,591),(112.2,351),(112.2,246),(109.6,125)]]
SEC5_STRIP = [("brown",3.2,26),("blue",72.1,86.6),("brown",90,108)]

SECTIONS = [
 dict(top=50,    fills=SEC1_FILLS, s=SEC1_S, so=SEC1_SO, d=SEC1_D, do=SEC1_DO, strip=SEC1_STRIP, xl=["151°E","153°W","96°W","50°W"]),
 dict(top=304.5, fills=SEC2_FILLS, s=SEC2_S, so=SEC2_SO, d=SEC2_D, do=SEC2_DO, strip=SEC2_STRIP, xl=["98°W","42°W","14°E","61°E"]),
 dict(top=559.3, fills=SEC3_FILLS, s=SEC3_S, so=SEC3_SO, d=SEC3_D, do=SEC3_DO, strip=SEC3_STRIP, xl=["18°E","74°E","130°E","176°E"]),
 dict(top=813.5, fills=SEC4_FILLS, s=SEC4_S, so=SEC4_SO, d=SEC4_D, do=SEC4_DO, strip=SEC4_STRIP, xl=["164°W","108°W","51°W","5°W"]),
 dict(top=1068,  fills=SEC5_FILLS, s=SEC5_S, so=SEC5_SO, d=SEC5_D, do=SEC5_DO, strip=SEC5_STRIP, xl=["76°W","20°W","37°E","84°E"]),
]
SEC_XT = [0, 56.3, 113, 159.5]
SEC_PT = [125, 200, 300, 500, 700, 1000]

# ---------- colour bar ----------
CB_EDGES = [-30,-24,-18,-12,-6,0,6,12,18,24,30]
CB_COLS = ["#21468b","#4285c5","#8bcbef","#c9e9f7","#ffffff","#fffefa","#fddf8a","#fd9e31","#ea5229","#b21b22"]
CB_TICKS = [-24,-12,0,12,24]
CB_UNDER, CB_OVER = "#1c2f63", "#8f1a1c"

FONT = "DejaVu Sans"
TICK = dict(family=FONT, size=23.5, color="#000000")
DASH = "6px,3px"
fig = go.Figure()
shapes, annots, layout = [], [], {}
axn = [0]

def dom_x(a, b): return [a / W, b / W]
def dom_y(a, b): return [1 - b / H, 1 - a / H]

def new_axes():
    axn[0] += 1
    n = axn[0]
    sfx = "" if n == 1 else str(n)
    return f"x{sfx}", f"y{sfx}", f"xaxis{sfx}", f"yaxis{sfx}"

def closed(p): return list(p) + [p[0]]

def add_poly(xa, ya, pts, col):
    pts = closed(pts)
    fig.add_trace(go.Scatter(x=[p[0] for p in pts], y=[p[1] for p in pts], xaxis=xa, yaxis=ya,
        mode="lines", fill="toself", fillcolor=col, line=dict(width=0, shape="spline", smoothing=1, color=col),
        hoverinfo="skip", showlegend=False))

def add_line(xa, ya, pts, col="#000000", w=1.8, dash="solid"):
    fig.add_trace(go.Scatter(x=[p[0] for p in pts], y=[p[1] for p in pts], xaxis=xa, yaxis=ya,
        mode="lines", line=dict(width=w, shape="spline", smoothing=1, color=col, dash=dash),
        hoverinfo="skip", showlegend=False))

def add_marks(xa, ya, P):
    for fill, pts in P["fills"]:
        add_poly(xa, ya, pts, COL[fill])
    for c in P["s"]:  add_line(xa, ya, closed(c))
    for c in P["so"]: add_line(xa, ya, c)
    for c in P["d"]:  add_line(xa, ya, closed(c), dash=DASH)
    for c in P["do"]: add_line(xa, ya, c, dash=DASH)

def lag(x0, top):
    annots.append(dict(text="lag0", xref="paper", yref="paper", x=x0 / W, y=1 - (top - 3.5) / H,
        xanchor="left", yanchor="bottom", showarrow=False, font=dict(family=FONT, size=34, color="#ff0000"),
        borderpad=0))

MX0, MX1 = 154, 606
SX0, SX1 = 719, 1170
PH = 158.8

for M in MAPS:
    xa, ya, xk, yk = new_axes()
    top, left = M["top"], M["left"]
    sign = 1 if M["nh"] else -1
    for poly in WORLD:
        for k in (-360, 0, 360, 720):
            pts = closed(poly)
            fig.add_trace(go.Scatter(x=[p[0] - left + k for p in pts], y=[sign * p[1] for p in pts], xaxis=xa, yaxis=ya,
                mode="lines", fill="toself", fillcolor=LAND, line=dict(width=0, color=LAND), hoverinfo="skip", showlegend=False))
    isl_x, isl_y = [], []
    for lo, la in ISLANDS:
        isl_x.append((lo - left) % 360); isl_y.append(sign * la)
    fig.add_trace(go.Scatter(x=isl_x, y=isl_y, xaxis=xa, yaxis=ya, mode="markers",
        marker=dict(size=4, color=LAND), hoverinfo="skip", showlegend=False))
    add_marks(xa, ya, M)
    add_line(xa, ya, closed(M["blue"]), col="#0000ff", w=3)
    layout[xk] = dict(domain=dom_x(MX0, MX1), range=[0, 361.6], anchor=ya, tickmode="array", automargin=False,
        tickvals=[t - left for t in M["xt"]], ticktext=M["xl"], ticks="outside", ticklen=7, tickcolor="rgba(0,0,0,0)",
        showgrid=False, zeroline=False, showline=True, mirror=True, linecolor="#222222", linewidth=1.5,
        tickfont=TICK, tickangle=0)
    layout[yk] = dict(domain=dom_y(top, top + PH), anchor=xa, tickmode="array", automargin=False,
        range=[0.5, 80] if M["nh"] else [80, 0.5],
        tickvals=[10, 30, 50, 70], ticktext=[f"{v}°{'N' if M['nh'] else 'S'}" for v in (10, 30, 50, 70)],
        ticks="outside", ticklen=12, tickcolor="rgba(0,0,0,0)", showgrid=False, zeroline=False, showline=True, mirror=True,
        linecolor="#222222", linewidth=1.5, tickfont=TICK)
    for v in M["red"]:
        shapes.append(dict(type="line", xref=f"{xa} domain", yref=ya, x0=-10 / 452, x1=10 / 452, y0=v, y1=v,
                           line=dict(color="#ff0000", width=2.5), layer="above"))
    annots.append(dict(text=f"<b>{M['name']}</b>", xref="paper", yref="paper", x=10 / W, y=1 - M["mid"] / H,
        xanchor="left", yanchor="middle", showarrow=False, font=dict(family=FONT, size=33, color="#000000")))
    lag(MX0, top)

for S in SECTIONS:
    xa, ya, xk, yk = new_axes()
    top = S["top"]
    add_marks(xa, ya, S)
    layout[xk] = dict(domain=dom_x(SX0, SX1), range=[0, 159.5], anchor=ya, tickmode="array", automargin=False,
        tickvals=SEC_XT, ticktext=S["xl"], ticks="outside", ticklen=12, tickwidth=2, tickcolor="#000000",
        showgrid=False, zeroline=False, showline=True, mirror=True, linecolor="#000000", linewidth=2,
        tickfont=TICK, tickangle=0)
    layout[yk] = dict(domain=dom_y(top, top + PH), anchor=xa, type="log", range=[3, math.log10(125)], automargin=False,
        tickmode="array", tickvals=SEC_PT, ticktext=[str(v) for v in SEC_PT], ticks="outside", ticklen=12, tickwidth=2,
        tickcolor="#000000", showgrid=False, zeroline=False, showline=True, mirror=True, linecolor="#000000", linewidth=2,
        tickfont=TICK)
    for kind, a, b in S["strip"]:
        shapes.append(dict(type="rect", xref=xa, yref=f"{ya} domain", x0=a, x1=b, y0=0, y1=-7 / PH,
            fillcolor="#4a4af0" if kind == "blue" else "#a98670", line=dict(width=0), layer="above"))
    lag(SX0, top)

# colour bar
xa, ya, xk, yk = new_axes()
for i, c in enumerate(CB_COLS):
    fig.add_trace(go.Bar(x=[CB_EDGES[i + 1] - CB_EDGES[i]], base=[CB_EDGES[i]], y=[0.5], width=[1], orientation="h",
        marker=dict(color=c, line=dict(width=0)), xaxis=xa, yaxis=ya, hoverinfo="skip", showlegend=False))
tip = 3.2
lo, hi = CB_EDGES[0], CB_EDGES[-1]
for xs, c in (([lo, lo - tip, lo, lo], CB_UNDER), ([hi, hi + tip, hi, hi], CB_OVER)):
    fig.add_trace(go.Scatter(x=xs, y=[0, 0.5, 1, 0], xaxis=xa, yaxis=ya, mode="lines", fill="toself", fillcolor=c,
        line=dict(width=0), hoverinfo="skip", showlegend=False))
fig.add_trace(go.Scatter(x=[lo, lo - tip, lo, hi, hi + tip, hi, lo], y=[0, 0.5, 1, 1, 0.5, 0, 0], xaxis=xa, yaxis=ya,
    mode="lines", line=dict(color="#000000", width=2.5), hoverinfo="skip", showlegend=False, cliponaxis=False))
layout[xk] = dict(domain=dom_x(187, 1042), range=[lo - tip, hi + tip], anchor=ya, tickmode="array", tickvals=CB_TICKS,
    ticks="outside", ticklen=8, tickwidth=2, tickcolor="#000000", showgrid=False, zeroline=False, showline=False,
    automargin=False, tickfont=dict(family=FONT, size=34, color="#000000"),
    title=dict(text="<i>Z</i><sub>250</sub> / m", font=dict(family=FONT, size=33, color="#000000"), standoff=14))
layout[yk] = dict(domain=dom_y(1301, 1322), range=[0, 1], anchor=xa, visible=False, fixedrange=True, automargin=False)

fig.update_layout(width=W, height=H, autosize=False, margin=dict(l=0, r=0, t=0, b=0), paper_bgcolor="#ffffff",
    plot_bgcolor="#ffffff", showlegend=False, barmode="overlay", bargap=0, shapes=shapes, annotations=annots,
    font=dict(family=FONT), **layout)
fig.write_html("out.html", config=dict(displayModeBar=False),
               post_script="document.body.style.margin='0';document.documentElement.style.margin='0';")
